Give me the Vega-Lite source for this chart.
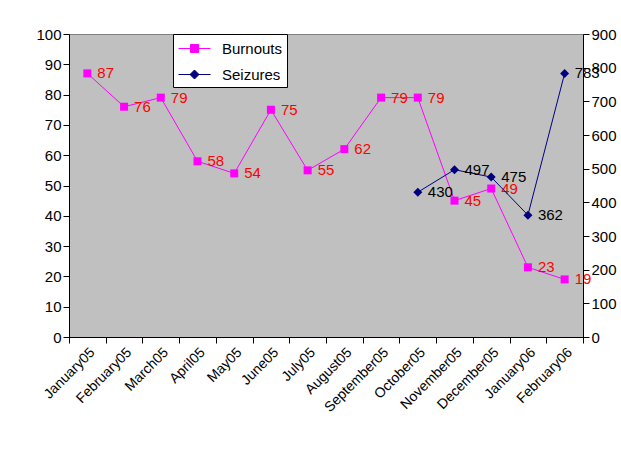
{
  "$schema": "https://vega.github.io/schema/vega-lite/v6.json",
  "width": 514,
  "height": 303,
  "autosize": {"type": "none"},
  "padding": {"left": 69, "top": 34, "right": 38, "bottom": 115},
  "background": "white",
  "config": {
    "font": "Liberation Sans",
    "view": {"fill": "#C0C0C0", "stroke": "#808080", "strokeWidth": 1},
    "axis": {
      "labelFont": "Liberation Sans",
      "labelFontSize": 15,
      "labelColor": "black",
      "domainColor": "black",
      "tickColor": "black",
      "grid": false,
      "tickSize": 6
    }
  },
  "data": {
    "values": [
      {"month": "January05", "burnouts": 87, "seizures": null},
      {"month": "February05", "burnouts": 76, "seizures": null},
      {"month": "March05", "burnouts": 79, "seizures": null},
      {"month": "April05", "burnouts": 58, "seizures": null},
      {"month": "May05", "burnouts": 54, "seizures": null},
      {"month": "June05", "burnouts": 75, "seizures": null},
      {"month": "July05", "burnouts": 55, "seizures": null},
      {"month": "August05", "burnouts": 62, "seizures": null},
      {"month": "September05", "burnouts": 79, "seizures": null},
      {"month": "October05", "burnouts": 79, "seizures": 430},
      {"month": "November05", "burnouts": 45, "seizures": 497},
      {"month": "December05", "burnouts": 49, "seizures": 475},
      {"month": "January06", "burnouts": 23, "seizures": 362},
      {"month": "February06", "burnouts": 19, "seizures": 783}
    ]
  },
  "encoding": {
    "x": {
      "field": "month",
      "type": "ordinal",
      "sort": null,
      "bandPosition": 0.5,
      "scale": {"type": "band", "paddingInner": 0, "paddingOuter": 0},
      "axis": {"title": null, "labelAngle": -45, "tickBand": "extent", "labelFontSize": 14}
    }
  },
  "layer": [
    {
      "encoding": {
        "y": {
          "field": "burnouts",
          "type": "quantitative",
          "scale": {"domain": [0, 100]},
          "axis": {"title": null, "orient": "left", "values": [0, 10, 20, 30, 40, 50, 60, 70, 80, 90, 100]}
        }
      },
      "layer": [
        {"mark": {"type": "line", "color": "#FF00FF", "strokeWidth": 1}},
        {
          "mark": {"type": "point", "filled": true, "size": 64, "opacity": 1, "shape": "square"},
          "encoding": {
            "color": {
              "datum": "Burnouts",
              "scale": {"domain": ["Burnouts", "Seizures"], "range": ["#FF00FF", "#000080"]},
              "legend": {
                "orient": "none",
                "legendX": 104,
                "legendY": 0,
                "title": null,
                "fillColor": "white",
                "strokeColor": "black",
                "padding": 4,
                "symbolSize": 400,
                "symbolOffset": 7,
                "labelOffset": 17,
                "symbolType": {"expr": "datum.value === 'Burnouts' ? 'M-1.6,0L1.6,0M-0.4,-0.4L0.4,-0.4L0.4,0.4L-0.4,0.4Z' : 'M-1.6,0L1.6,0M0,-0.45L0.45,0L0,0.45L-0.45,0Z'"},
                "symbolStrokeColor": {"expr": "datum.value === 'Burnouts' ? '#FF00FF' : '#000080'"},
                "symbolStrokeWidth": 1,
                "labelFontSize": 15,
                "labelFont": "Liberation Sans",
                "labelColor": "black",
                "rowPadding": 7
              }
            }
          }
        },
        {
          "mark": {"type": "text", "align": "left", "baseline": "middle", "dx": 10, "color": "#FF0000", "fontSize": 15, "font": "Liberation Sans"},
          "encoding": {"text": {"field": "burnouts"}}
        }
      ]
    },
    {
      "transform": [{"filter": "datum.seizures != null"}],
      "encoding": {
        "y": {
          "field": "seizures",
          "type": "quantitative",
          "scale": {"domain": [0, 900]},
          "axis": {"title": null, "orient": "right", "values": [0, 100, 200, 300, 400, 500, 600, 700, 800, 900]}
        }
      },
      "layer": [
        {"mark": {"type": "line", "color": "#000080", "strokeWidth": 1}},
        {
          "mark": {"type": "point", "filled": true, "size": 81, "opacity": 1, "shape": "diamond"},
          "encoding": {
            "color": {"datum": "Seizures"}
          }
        },
        {
          "mark": {"type": "text", "align": "left", "baseline": "middle", "dx": 10, "color": "black", "fontSize": 15, "font": "Liberation Sans"},
          "encoding": {"text": {"field": "seizures"}}
        }
      ]
    }
  ],
  "resolve": {"scale": {"y": "independent"}}
}
